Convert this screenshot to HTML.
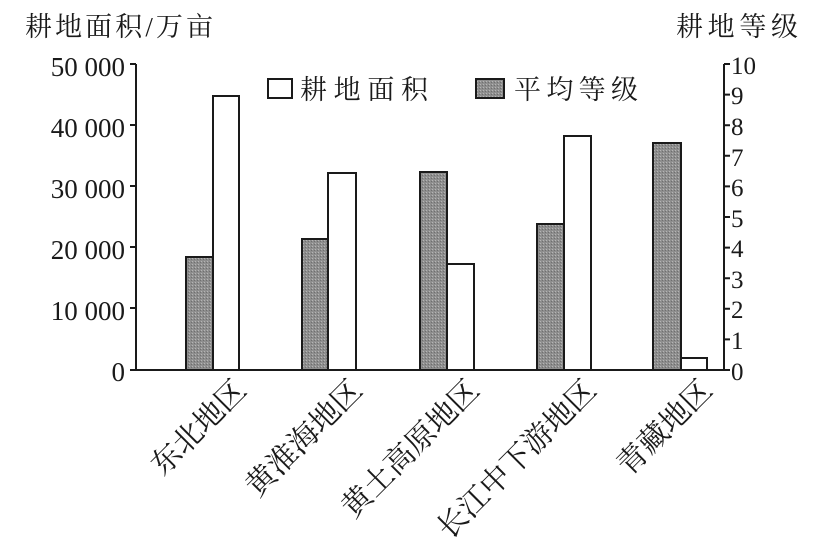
<!DOCTYPE html>
<html><head><meta charset="utf-8"><style>
body{margin:0;background:#fff}
svg{display:block}
.cj{font-family:"Liberation Serif","Noto Serif CJK SC","Noto Sans CJK SC",serif;font-size:27px;fill:#1a1a1a}
.nm{font-family:"Liberation Serif",serif;font-size:27px;fill:#1a1a1a}
</style></head><body>
<svg width="821" height="552" viewBox="0 0 821 552" xmlns="http://www.w3.org/2000/svg">
<defs><pattern id="g" width="3" height="3" patternUnits="userSpaceOnUse"><rect width="3" height="3" fill="#8e8e8e"/><rect width="1" height="1" fill="#b5b5b5"/><rect x="2" y="1" width="1" height="1" fill="#6f6f6f"/></pattern></defs>
<text class="cj" x="25" y="36" textLength="188">耕地面积/万亩</text>
<text class="cj" x="676" y="36" textLength="122">耕地等级</text>
<g stroke="#1a1a1a" stroke-width="2" fill="none">
<line x1="136" y1="64" x2="136" y2="370"/>
<line x1="130" y1="370" x2="730" y2="370"/>
<line x1="724" y1="64" x2="724" y2="370"/>
<path d="M130 64H136M130 125H136M130 186H136M130 247H136M130 308H136"/>
<path d="M724 64H730M724 94.6H730M724 125.2H730M724 155.8H730M724 186.4H730M724 217H730M724 247.6H730M724 278.2H730M724 308.8H730M724 339.4H730"/>
</g>
<g class="nm" text-anchor="end">
<text x="125" y="76">50 000</text><text x="125" y="137">40 000</text><text x="125" y="198">30 000</text><text x="125" y="259">20 000</text><text x="125" y="320">10 000</text><text x="125" y="381">0</text>
</g>
<g class="nm" style="font-size:25px">
<text x="731" y="74">10</text><text x="731" y="104">9</text><text x="731" y="135">8</text><text x="731" y="166">7</text><text x="731" y="196">6</text><text x="731" y="227">5</text><text x="731" y="257">4</text><text x="731" y="288">3</text><text x="731" y="318">2</text><text x="731" y="349">1</text><text x="731" y="380">0</text>
</g>
<g stroke="#1a1a1a" stroke-width="2">
<rect x="186" y="257" width="27" height="113" fill="url(#g)"/>
<rect x="213" y="96" width="26" height="274" fill="#fff"/>
<rect x="302" y="239" width="26" height="131" fill="url(#g)"/>
<rect x="328" y="173" width="28" height="197" fill="#fff"/>
<rect x="420" y="172" width="27" height="198" fill="url(#g)"/>
<rect x="447" y="264" width="27" height="106" fill="#fff"/>
<rect x="537" y="224" width="27" height="146" fill="url(#g)"/>
<rect x="564" y="136" width="27" height="234" fill="#fff"/>
<rect x="653" y="143" width="28" height="227" fill="url(#g)"/>
<rect x="681" y="358" width="26" height="12" fill="#fff"/>
<rect x="268" y="79" width="24" height="19" fill="#fff"/>
<rect x="476" y="79" width="28" height="19" fill="url(#g)"/>
</g>
<text class="cj" x="300" y="99" textLength="128">耕地面积</text>
<text class="cj" x="514" y="99" textLength="124">平均等级</text>
<g class="cj" style="font-size:30px" text-anchor="end">
<text transform="translate(248,392) rotate(-45)">东北地区</text>
<text transform="translate(364,392) rotate(-45)">黄淮海地区</text>
<text transform="translate(481,392) rotate(-45)">黄土高原地区</text>
<text transform="translate(598,392) rotate(-45)">长江中下游地区</text>
<text transform="translate(714,392) rotate(-45)">青藏地区</text>
</g>
</svg>
</body></html>
